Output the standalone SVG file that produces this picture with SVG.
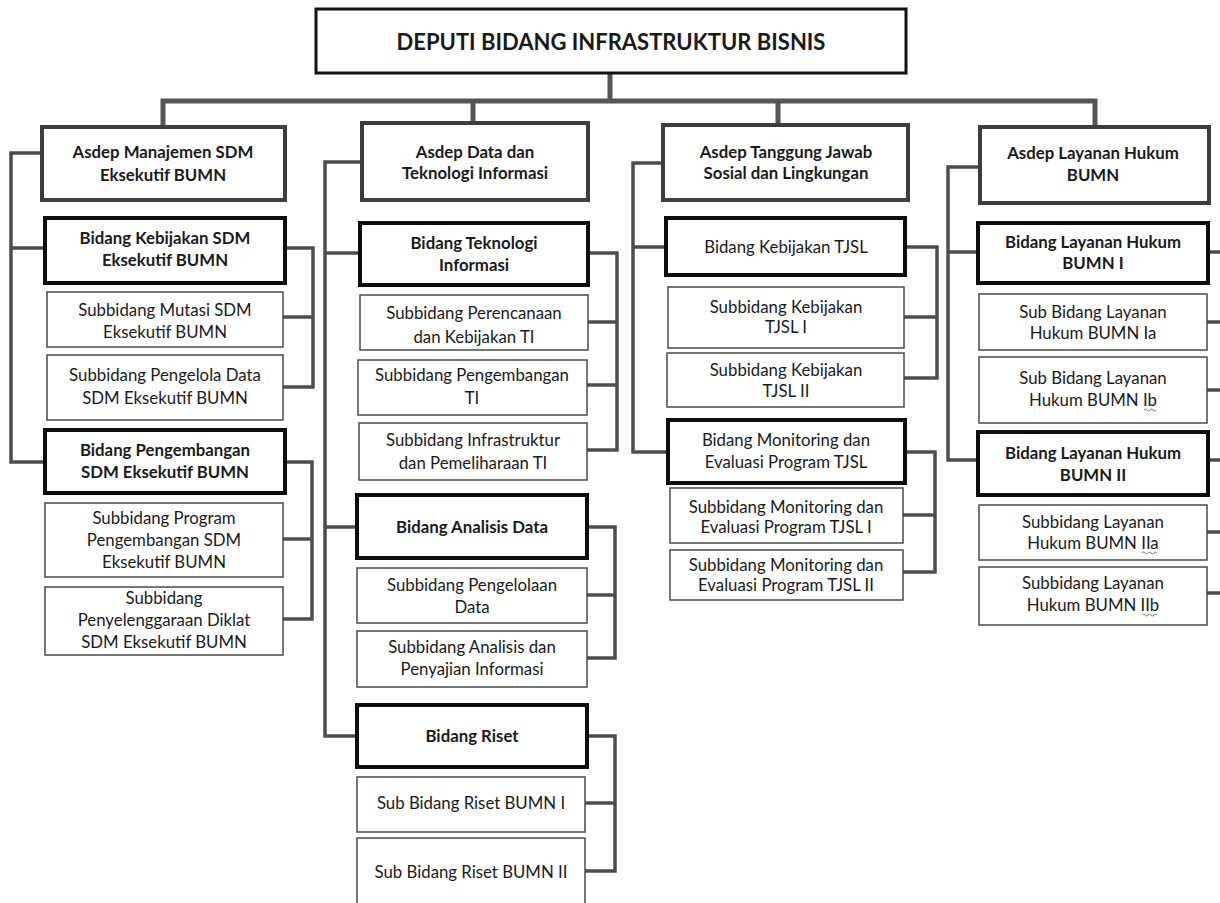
<svg xmlns="http://www.w3.org/2000/svg" width="1220" height="903" viewBox="0 0 1220 903">
<style>
  .bg{fill:#fff}
  .top{fill:#fff;stroke:#111;stroke-width:3}
  .asdep{fill:#fff;stroke:#3d3d3d;stroke-width:4}
  .bid{fill:#fff;stroke:#0d0d0d;stroke-width:4}
  .sub{fill:#fff;stroke:#4a4a4a;stroke-width:1.5}
  .conn path{fill:none;stroke:#4d4d4d;stroke-width:3.5;stroke-linejoin:miter}
  .conn .main{stroke-width:5;stroke:#555}
  text{font-family:Lato,"Open Sans","Liberation Sans",sans-serif;fill:#1a1a1a;text-anchor:middle;font-size:16.8px}
  .b{font-weight:bold}
  .title{font-size:22px;font-weight:bold}
  .sq{fill:none;stroke:#777;stroke-width:1}
</style>
<rect class="bg" x="0" y="0" width="1220" height="903"/>

<g id="connectors" class="conn">
  <path class="main" d="M610,73 V101"/>
  <path class="main" d="M163,127 V101 H1095 V127"/>
  <path class="main" d="M473,101 V123"/>
  <path class="main" d="M778,101 V125"/>
  <!-- column 1 -->
  <path d="M42,153 H11 V462 H45"/>
  <path d="M11,248 H45"/>
  <path d="M285,248 H313 V387 H283"/>
  <path d="M283,317 H313"/>
  <path d="M285,462 H312 V619 H283"/>
  <path d="M283,539 H312"/>
  <!-- column 2 -->
  <path d="M362,162 H325 V736 H357"/>
  <path d="M325,253 H360"/>
  <path d="M325,527 H357"/>
  <path d="M588,253 H617 V450 H587"/>
  <path d="M588,322 H617"/>
  <path d="M587,385 H617"/>
  <path d="M587,527 H615 V658 H587"/>
  <path d="M587,595 H615"/>
  <path d="M587,736 H615 V871 H585"/>
  <path d="M585,803 H615"/>
  <!-- column 3 -->
  <path d="M663,163 H633 V452 H668"/>
  <path d="M633,247 H666"/>
  <path d="M905,247 H937 V378 H904"/>
  <path d="M904,317 H937"/>
  <path d="M905,452 H935 V572 H903"/>
  <path d="M903,515 H935"/>
  <!-- column 4 -->
  <path d="M980,167 H948 V460 H978"/>
  <path d="M948,252 H978"/>
  <path d="M1208,252 H1220"/>
  <path d="M1207,322 H1220"/>
  <path d="M1207,390 H1220"/>
  <path d="M1208,460 H1220"/>
  <path d="M1207,532 H1220"/>
  <path d="M1207,593 H1220"/>
</g>

<g id="deputi"><rect class="top" x="316" y="9" width="590" height="64"/><text class="title" x="611" y="50">DEPUTI BIDANG INFRASTRUKTUR BISNIS</text></g>

<!-- Column 1 -->
<g id="asdep-sdm"><rect class="asdep" x="42" y="127" width="243" height="73"/><text class="b" x="163" y="158">Asdep Manajemen  SDM</text><text class="b" x="163" y="181">Eksekutif BUMN</text></g>
<g id="bid-kebijakan-sdm"><rect class="bid" x="45" y="218" width="240" height="65"/><text class="b" x="165" y="244">Bidang Kebijakan  SDM</text><text class="b" x="165" y="266">Eksekutif BUMN</text></g>
<g id="sub-mutasi"><rect class="sub" x="47" y="292" width="236" height="55"/><text x="165" y="316">Subbidang Mutasi SDM</text><text x="165" y="338">Eksekutif BUMN</text></g>
<g id="sub-pengelola"><rect class="sub" x="47" y="355" width="236" height="65"/><text x="165" y="381">Subbidang Pengelola Data</text><text x="165" y="404">SDM Eksekutif BUMN</text></g>
<g id="bid-pengembangan-sdm"><rect class="bid" x="45" y="430" width="240" height="63"/><text class="b" x="165" y="456">Bidang Pengembangan</text><text class="b" x="165" y="478">SDM Eksekutif  BUMN</text></g>
<g id="sub-program"><rect class="sub" x="45" y="503" width="238" height="74"/><text x="164" y="524">Subbidang Program</text><text x="164" y="546">Pengembangan SDM</text><text x="164" y="568">Eksekutif BUMN</text></g>
<g id="sub-diklat"><rect class="sub" x="45" y="587" width="238" height="68"/><text x="164" y="604">Subbidang</text><text x="164" y="626">Penyelenggaraan Diklat</text><text x="164" y="648">SDM Eksekutif BUMN</text></g>

<!-- Column 2 -->
<g id="asdep-data"><rect class="asdep" x="362" y="123" width="226" height="77"/><text class="b" x="475" y="158">Asdep Data dan</text><text class="b" x="475" y="179">Teknologi Informasi</text></g>
<g id="bid-ti"><rect class="bid" x="360" y="223" width="228" height="62"/><text class="b" x="474" y="249">Bidang Teknologi</text><text class="b" x="474" y="271">Informasi</text></g>
<g id="sub-perencanaan"><rect class="sub" x="360" y="295" width="228" height="55"/><text x="474" y="319">Subbidang Perencanaan</text><text x="474" y="343">dan Kebijakan  TI</text></g>
<g id="sub-pengembangan-ti"><rect class="sub" x="358" y="360" width="229" height="55"/><text x="472" y="381">Subbidang Pengembangan</text><text x="472" y="404">TI</text></g>
<g id="sub-infrastruktur"><rect class="sub" x="359" y="423" width="228" height="57"/><text x="473" y="446">Subbidang Infrastruktur</text><text x="473" y="469">dan Pemeliharaan TI</text></g>
<g id="bid-analisis"><rect class="bid" x="357" y="495" width="230" height="63"/><text class="b" x="472" y="533">Bidang Analisis  Data</text></g>
<g id="sub-pengelolaan"><rect class="sub" x="357" y="568" width="230" height="55"/><text x="472" y="591">Subbidang Pengelolaan</text><text x="472" y="613">Data</text></g>
<g id="sub-penyajian"><rect class="sub" x="357" y="631" width="230" height="56"/><text x="472" y="653">Subbidang Analisis dan</text><text x="472" y="675">Penyajian Informasi</text></g>
<g id="bid-riset"><rect class="bid" x="357" y="705" width="230" height="62"/><text class="b" x="472" y="742">Bidang Riset</text></g>
<g id="sub-riset-1"><rect class="sub" x="357" y="777" width="228" height="55"/><text x="471" y="809">Sub Bidang  Riset  BUMN I</text></g>
<g id="sub-riset-2"><rect class="sub" x="357" y="838" width="228" height="80"/><text x="471" y="878">Sub Bidang  Riset  BUMN II</text></g>

<!-- Column 3 -->
<g id="asdep-tjsl"><rect class="asdep" x="663" y="125" width="245" height="75"/><text class="b" x="786" y="158">Asdep Tanggung  Jawab</text><text class="b" x="786" y="179">Sosial dan Lingkungan</text></g>
<g id="bid-kebijakan-tjsl"><rect class="bid" x="666" y="218" width="239" height="57"/><text x="786" y="253">Bidang Kebijakan TJSL</text></g>
<g id="sub-tjsl-1"><rect class="sub" x="668" y="287" width="236" height="61"/><text x="786" y="313">Subbidang Kebijakan</text><text x="786" y="333">TJSL  I</text></g>
<g id="sub-tjsl-2"><rect class="sub" x="667" y="353" width="237" height="54"/><text x="786" y="376">Subbidang Kebijakan</text><text x="786" y="397">TJSL II</text></g>
<g id="bid-monitoring"><rect class="bid" x="668" y="420" width="237" height="63"/><text x="786" y="446">Bidang Monitoring dan</text><text x="786" y="468">Evaluasi Program TJSL</text></g>
<g id="sub-monitoring-1"><rect class="sub" x="670" y="488" width="233" height="55"/><text x="786" y="513">Subbidang Monitoring  dan</text><text x="786" y="533">Evaluasi Program TJSL I</text></g>
<g id="sub-monitoring-2"><rect class="sub" x="670" y="550" width="233" height="50"/><text x="786" y="571">Subbidang Monitoring  dan</text><text x="786" y="591">Evaluasi Program TJSL II</text></g>

<!-- Column 4 -->
<g id="asdep-hukum"><rect class="asdep" x="980" y="127" width="229" height="76"/><text class="b" x="1093" y="159">Asdep Layanan  Hukum</text><text class="b" x="1093" y="181">BUMN</text></g>
<g id="bid-hukum-1"><rect class="bid" x="978" y="223" width="230" height="60"/><text class="b" x="1093" y="248">Bidang Layanan  Hukum</text><text class="b" x="1093" y="269">BUMN I</text></g>
<g id="sub-hukum-1a"><rect class="sub" x="979" y="294" width="228" height="56"/><text x="1093" y="318">Sub Bidang  Layanan</text><text x="1093" y="339">Hukum BUMN  Ia</text></g>
<g id="sub-hukum-1b"><rect class="sub" x="979" y="357" width="228" height="66"/><text x="1093" y="384">Sub Bidang  Layanan</text><text x="1093" y="406">Hukum BUMN  Ib</text><path class="sq" d="M1144,410 q1.5,-2 3,0 t3,0 t3,0 t3,0"/></g>
<g id="bid-hukum-2"><rect class="bid" x="978" y="432" width="230" height="63"/><text class="b" x="1093" y="459">Bidang Layanan  Hukum</text><text class="b" x="1093" y="481">BUMN II</text></g>
<g id="sub-hukum-2a"><rect class="sub" x="979" y="505" width="228" height="55"/><text x="1093" y="528">Subbidang Layanan</text><text x="1093" y="549">Hukum BUMN  IIa</text><path class="sq" d="M1142,553 q1.5,-2 3,0 t3,0 t3,0 t3,0 t3,0"/></g>
<g id="sub-hukum-2b"><rect class="sub" x="979" y="567" width="228" height="58"/><text x="1093" y="589">Subbidang Layanan</text><text x="1093" y="611">Hukum BUMN  IIb</text><path class="sq" d="M1142,615 q1.5,-2 3,0 t3,0 t3,0 t3,0 t3,0"/></g>
</svg>
